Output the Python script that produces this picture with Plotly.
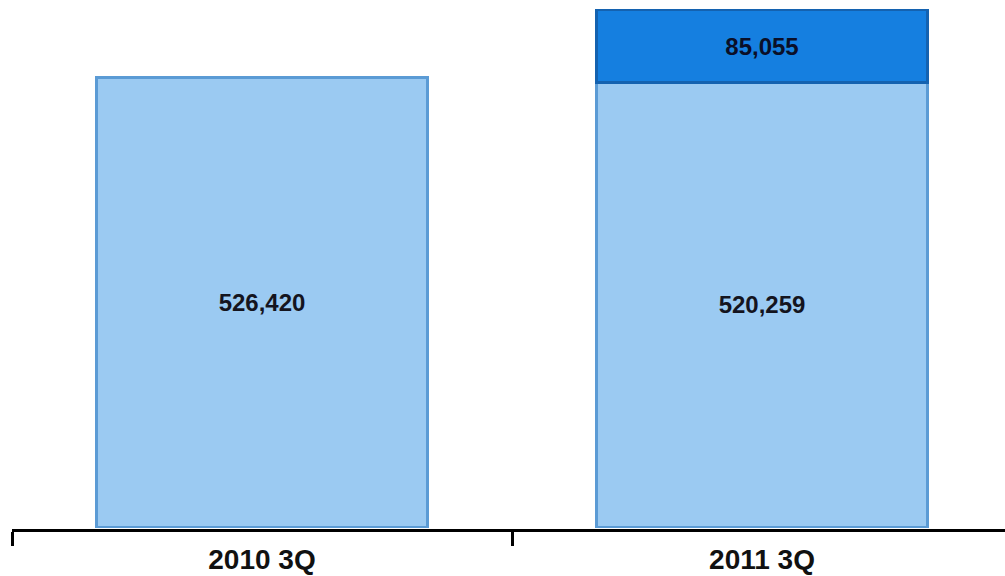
import plotly.graph_objects as go

categories = ["2010 3Q", "2011 3Q"]
base_values = [526420, 520259]
added_values = [None, 85055]

fig = go.Figure()
fig.add_trace(go.Bar(
    x=categories, y=base_values, width=0.662,
    marker=dict(color="#9bcaf2", line=dict(color="#5b9bd5", width=2.5)),
    texttemplate="%{y:,}", textposition="inside", insidetextanchor="middle",
    textangle=0, textfont=dict(family="Liberation Sans", size=24, color="#14141e", weight="bold"),
    showlegend=False, hoverinfo="skip",
))
fig.add_trace(go.Bar(
    x=categories, y=added_values, width=0.662,
    marker=dict(color="#157fe0", line=dict(color="#1462b0", width=2.5)),
    texttemplate="%{y:,}", textposition="inside", insidetextanchor="middle",
    textangle=0, textfont=dict(family="Liberation Sans", size=24, color="#0a0f28", weight="bold"),
    showlegend=False, hoverinfo="skip",
))

fig.update_layout(
    barmode="stack",
    width=1005, height=576,
    margin=dict(l=12, r=0, t=0, b=47),
    paper_bgcolor="white", plot_bgcolor="white",
    xaxis=dict(
        type="category", range=[-0.5, 1.486],
        tickson="boundaries", ticks="outside", ticklen=14, tickwidth=3, tickcolor="black",
        showline=True, linewidth=3, linecolor="black", showgrid=False,
        ticklabelstandoff=3,
        tickfont=dict(family="Liberation Sans", size=28, color="#111111", weight="bold"),
    ),
    yaxis=dict(range=[-2341, 616850], visible=False, showgrid=False),
)

fig.write_html("out.html", config={"displayModeBar": False},
               post_script="document.body.style.margin='0';")
